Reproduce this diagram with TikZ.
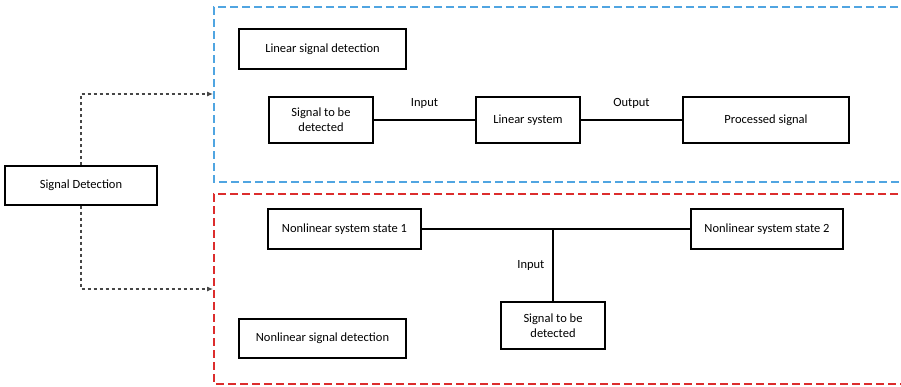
\documentclass[tikz,border=0pt]{standalone}
\usepackage{fontspec}
\setmainfont{Carlito}
\usetikzlibrary{arrows.meta}
\definecolor{bluedash}{RGB}{80,165,225}
\definecolor{reddash}{RGB}{220,45,45}
\definecolor{greydash}{RGB}{70,70,70}
\begin{document}
\begin{tikzpicture}[x=1pt,y=-1pt,
  box/.style={draw=black,line width=1.3pt,fill=white,font=\fontsize{12.5}{15}\selectfont,align=center,inner sep=0pt},
  conn/.style={draw=black,line width=1.2pt},
  lbl/.style={font=\fontsize{12.5}{15}\selectfont,inner sep=0pt},
  arr/.style={draw=greydash,line width=1.1pt,dash pattern=on 3.5pt off 2.5pt,-{Latex[length=6pt,width=5pt]}}]
\useasboundingbox (0,0) rectangle (901,386);
% group frames
\draw[bluedash,line width=1.1pt,dash pattern=on 8pt off 4pt] (910,7) -- (214,7) -- (214,182) -- (910,182);
\draw[reddash,line width=1.1pt,dash pattern=on 8pt off 4pt] (910,194) -- (214,194) -- (214,384) -- (910,384);
\coordinate (topin) at (213,94);
\coordinate (botin) at (213,289);
% nodes
\node[box,minimum width=152pt,minimum height=39pt] (sd) at (81,185.5) {Signal Detection};
\node[box,minimum width=167pt,minimum height=40pt] (lsd) at (322.5,49) {Linear signal detection};
\node[box,minimum width=104pt,minimum height=46pt] (sig1) at (321,120) {Signal to be\\detected};
\node[box,minimum width=104pt,minimum height=46pt] (lsys) at (528,120) {Linear system};
\node[box,minimum width=166pt,minimum height=46pt] (proc) at (766,120) {Processed signal};
\node[box,minimum width=153pt,minimum height=40pt] (ns1) at (344.5,229) {Nonlinear system state 1};
\node[box,minimum width=152pt,minimum height=40pt] (ns2) at (767,229) {Nonlinear system state 2};
\node[box,minimum width=104pt,minimum height=47pt] (sig2) at (553,325.5) {Signal to be\\detected};
\node[box,minimum width=167pt,minimum height=39pt] (nsd) at (322.5,338.5) {Nonlinear signal detection};
% connectors
\draw[arr] (sd.north) |- (topin);
\draw[arr] (sd.south) |- (botin);
\draw[conn] (sig1) -- node[lbl,above=11pt] {Input} (lsys);
\draw[conn] (lsys) -- node[lbl,above=11pt] {Output} (proc);
\draw[conn] (ns1) -- (ns2);
\coordinate (junc) at (sig2.north |- ns1.east);
\draw[conn] (sig2.north) -- node[lbl,left=8pt] {Input} (junc);
\end{tikzpicture}
\end{document}
